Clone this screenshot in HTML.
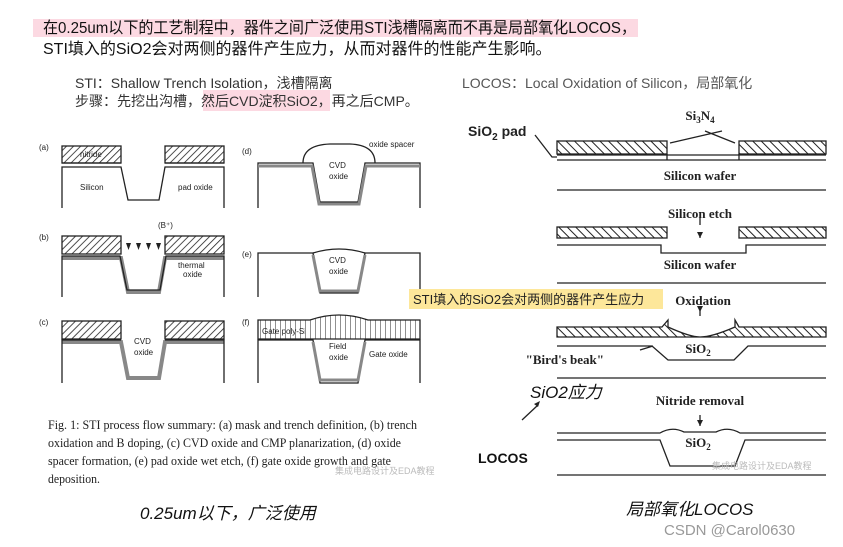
<!DOCTYPE html>
<html><head><meta charset="utf-8"><style>
html,body{margin:0;padding:0;background:#fff;}
svg{display:block;}
.cj{font-family:"Liberation Sans","Noto Sans CJK SC",sans-serif;}
.s{font-family:"Liberation Serif","Noto Serif CJK SC",serif;}
</style></head><body>
<svg width="843" height="547" viewBox="0 0 843 547" xmlns="http://www.w3.org/2000/svg">
<defs>
<pattern id="h" width="5" height="5" patternUnits="userSpaceOnUse" patternTransform="rotate(45)">
<rect width="5" height="5" fill="#fff"/><line x1="0" y1="0" x2="0" y2="5" stroke="#222" stroke-width="1.6"/></pattern>
<pattern id="h2" width="6" height="6" patternUnits="userSpaceOnUse" patternTransform="rotate(-45)">
<rect width="6" height="6" fill="#fff"/><line x1="0" y1="0" x2="0" y2="6" stroke="#222" stroke-width="2"/></pattern>
<pattern id="v" width="5" height="5" patternUnits="userSpaceOnUse">
<rect width="5" height="5" fill="#fff"/><line x1="0" y1="0" x2="0" y2="5" stroke="#222" stroke-width="1"/></pattern>
</defs>
<rect x="33" y="19" width="605" height="18" fill="#fcd9e2"/>
<rect x="203" y="90" width="127" height="21" fill="#fcd9e2"/>
<g class="cj" fill="#111" font-size="16">
<text x="43" y="33" textLength="593" lengthAdjust="spacingAndGlyphs">在0.25um以下的工艺制程中，器件之间广泛使用STI浅槽隔离而不再是局部氧化LOCOS，</text>
<text x="43" y="54">STI填入的SiO2会对两侧的器件产生应力，从而对器件的性能产生影响。</text>
</g>
<g class="cj" fill="#333" font-size="14">
<text x="75" y="88">STI：Shallow Trench Isolation，浅槽隔离</text>
<text x="75" y="106">步骤：先挖出沟槽，然后CVD淀积SiO2，再之后CMP。</text>
<text x="462" y="88" fill="#555">LOCOS：Local Oxidation of Silicon，局部氧化</text>
</g>
<g stroke="#222" stroke-width="1.3" fill="none">
<rect x="62" y="146" width="59" height="17" fill="url(#h)"/>
<rect x="165" y="146" width="59" height="17" fill="url(#h)"/>
<path d="M62 163H121M165 163H224"/>
<path d="M62 208V167H121L128 200H159L165 167H224V208"/>
<rect x="62" y="236" width="59" height="18" fill="url(#h)"/>
<rect x="165" y="236" width="59" height="18" fill="url(#h)"/>
<path d="M62 258H121L128 292H159L165 258H224" stroke="#888" stroke-width="4"/>
<path d="M62 297V256H120L127 290H160L166 256H224V297"/>
<rect x="62" y="321" width="59" height="18" fill="url(#h)"/>
<rect x="165" y="321" width="59" height="18" fill="url(#h)"/>
<path d="M62 342H121L128 378H159L165 342H224" stroke="#888" stroke-width="4"/>
<path d="M62 383V340H121M165 340H224V383"/>
<path d="M303 163Q303 145 330 144H350Q375 145 375 163"/>
<path d="M258 208V163H313L320 202H358L365 163H420V208"/>
<path d="M258 166H312L319 204H359L366 166H420" stroke="#888" stroke-width="3"/>
<path d="M258 297V253H313L320 293H358L365 253H420V297"/>
<path d="M313 255L320 291H358L365 255" stroke="#888" stroke-width="3"/>
<path d="M313 253Q339 245 365 253"/>
<path d="M258 320H310Q339 310 368 320H420V339H258Z" fill="url(#v)"/>
<path d="M258 383V340H313L320 383H358L365 340H420V383"/>
<path d="M313 342L320 380H358L365 342" stroke="#888" stroke-width="3"/>
</g>
<g font-family="Liberation Sans,sans-serif" font-size="8" fill="#222">
<text x="39" y="150">(a)</text><text x="80" y="157">nitride</text><text x="80" y="190">Silicon</text><text x="178" y="190">pad oxide</text>
<text x="39" y="240">(b)</text><text x="158" y="228">(B⁺)</text><text x="178" y="268">thermal</text><text x="183" y="277">oxide</text>
<text x="39" y="325">(c)</text><text x="134" y="344">CVD</text><text x="134" y="355">oxide</text>
<text x="242" y="154">(d)</text><text x="369" y="147">oxide spacer</text><text x="329" y="168">CVD</text><text x="329" y="179">oxide</text>
<text x="242" y="257">(e)</text><text x="329" y="263">CVD</text><text x="329" y="274">oxide</text>
<text x="242" y="325">(f)</text><text x="262" y="334">Gate poly-Si</text><text x="329" y="349">Field</text><text x="329" y="360">oxide</text><text x="369" y="357">Gate oxide</text>
</g>
<g fill="#222"><path d="M126 243h5l-2.5 7z M136 243h5l-2.5 7z M146 243h5l-2.5 7z M156 243h5l-2.5 7z"/></g>
<g class="s" font-size="13" fill="#222">
<text x="48" y="429" textLength="369" lengthAdjust="spacingAndGlyphs">Fig. 1:  STI process flow summary: (a) mask and trench definition, (b) trench</text>
<text x="48" y="447" textLength="353" lengthAdjust="spacingAndGlyphs">oxidation and B doping, (c) CVD oxide and CMP planarization, (d) oxide</text>
<text x="48" y="465" textLength="343" lengthAdjust="spacingAndGlyphs">spacer formation, (e) pad oxide wet etch, (f) gate oxide growth and gate</text>
<text x="48" y="483" textLength="52" lengthAdjust="spacingAndGlyphs">deposition.</text>
</g>
<g stroke="#222" stroke-width="1.3" fill="none">
<rect x="557" y="141" width="110" height="13" fill="url(#h2)"/>
<rect x="739" y="141" width="87" height="13" fill="url(#h2)"/>
<path d="M557 155H826M557 160H826M557 190H826M667 154V160M739 154V160"/>
<path d="M722 131L670 143M705 131L735 143M535 135L552 157H557"/>
<rect x="557" y="227" width="110" height="11" fill="url(#h2)"/>
<rect x="739" y="227" width="87" height="11" fill="url(#h2)"/>
<path d="M557 245H661V253H746V245H826M557 283H826M700 233V238"/>
<path d="M557 327H662L668 320V327Q690 337 700 337Q712 337 735 327V320L739 327H826V337H557Z" fill="url(#h2)"/>
<path d="M557 346H652L668 360H734L748 346H826M557 378H826M653 346L640 350"/>
<path d="M557 433H660Q672 426 684 432L700 432L716 432Q728 426 740 433H826M557 440H660L670 466H735L745 440H826M557 475H826"/>
<path d="M700 415V426M700 316V306M700 225V218"/>
<path d="M522 420L538 405"/>
</g>
<g fill="#222"><path d="M697 232h6l-3 6z M697 306h6l-3 6z M697 420h6l-3 6z M534 404l6-3-2 6z"/></g>
<g class="s" font-size="13" font-weight="bold" fill="#222" text-anchor="middle">
<text x="700" y="120">Si<tspan font-size="9" dy="3">3</tspan><tspan dy="-3">N</tspan><tspan font-size="9" dy="3">4</tspan></text>
<text x="700" y="180">Silicon wafer</text><text x="700" y="218">Silicon etch</text>
<text x="700" y="269">Silicon wafer</text><text x="703" y="305">Oxidation</text>
<text x="698" y="353">SiO<tspan font-size="9" dy="3">2</tspan></text>
<text x="700" y="405">Nitride removal</text>
<text x="698" y="447">SiO<tspan font-size="9" dy="3">2</tspan></text>
<text x="604" y="364" text-anchor="end">"Bird's beak"</text>
</g>
<text x="468" y="136" font-family="Liberation Sans,sans-serif" font-size="14" font-weight="bold" fill="#222">SiO<tspan font-size="10" dy="4">2</tspan><tspan dy="-4"> pad</tspan></text>
<rect x="409" y="289" width="254" height="20" fill="#fde79a"/>
<text x="413" y="304" class="cj" font-size="13" fill="#222">STI填入的SiO2会对两侧的器件产生应力</text>
<text x="530" y="398" class="cj" font-size="17" font-style="italic" fill="#111">SiO2应力</text>
<text x="478" y="463" font-family="Liberation Sans,sans-serif" font-size="14" font-weight="bold" fill="#111">LOCOS</text>
<text x="140" y="519" class="cj" font-size="17" font-style="italic" fill="#111">0.25um以下，广泛使用</text>
<text x="626" y="515" class="cj" font-size="17" font-style="italic" fill="#111">局部氧化LOCOS</text>
<text x="664" y="535" font-family="Liberation Sans,sans-serif" font-size="15" fill="#999">CSDN @Carol0630</text>
<text x="335" y="474" class="cj" font-size="9" fill="#bbb">集成电路设计及EDA教程</text>
<text x="712" y="469" class="cj" font-size="9" fill="#bbb">集成电路设计及EDA教程</text>
</svg>
</body></html>
